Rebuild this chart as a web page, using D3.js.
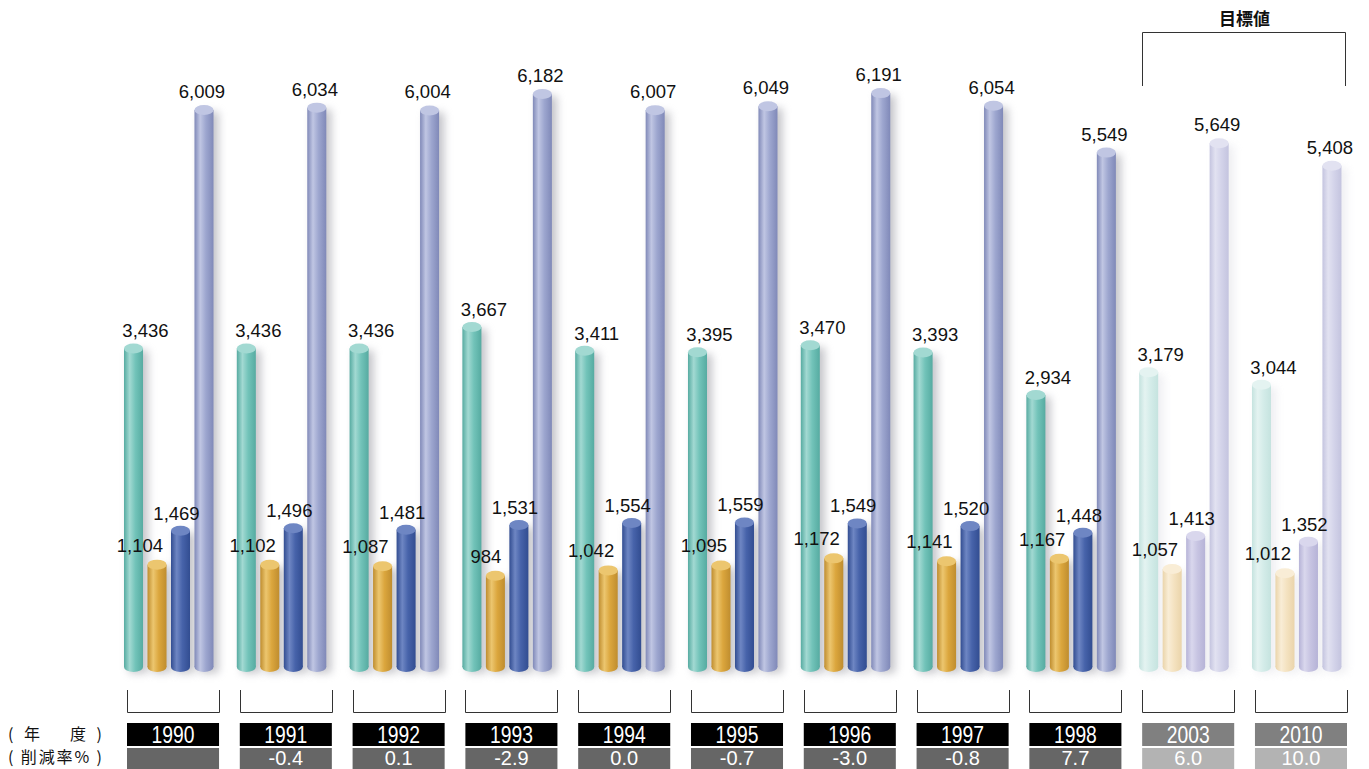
<!DOCTYPE html>
<html>
<head>
<meta charset="utf-8">
<script src="https://cdn.jsdelivr.net/npm/d3@7"></script>
<style>
  html, body { margin: 0; padding: 0; background: #fff; }
  svg { display: block; }
  .lbl { font-family: "Liberation Sans", Arial, sans-serif; font-size: 18.5px; fill: #111; }
  .box-txt { font-family: "Liberation Sans", Arial, sans-serif; fill: #fff; }
  .jp { font-family: "Noto Sans CJK JP", sans-serif; fill: #111; }
</style>
</head>
<body>
<script>
// Fiscal years (last two are target years)
const years = ["1990", "1991", "1992", "1993", "1994", "1995", "1996", "1997", "1998", "2003", "2010"];
const targetYears = ["2003", "2010"];
// Four series per year
const valuesA = [3436, 3436, 3436, 3667, 3411, 3395, 3470, 3393, 2934, 3179, 3044];
const valuesB = [1104, 1102, 1087, 984, 1042, 1095, 1172, 1141, 1167, 1057, 1012];
const valuesC = [1469, 1496, 1481, 1531, 1554, 1559, 1549, 1520, 1448, 1413, 1352];
const valuesD = [6009, 6034, 6004, 6182, 6007, 6049, 6191, 6054, 5549, 5649, 5408];
// Reduction rate (%) per year
const rates = ["", "-0.4", "0.1", "-2.9", "0.0", "-0.7", "-3.0", "-0.8", "7.7", "6.0", "10.0"];
const seriesKeys = ["A", "B", "C", "D"];
const seriesValues = { A: valuesA, B: valuesB, C: valuesC, D: valuesD };

const W = 1369, H = 769;
const svg = d3.select("body").append("svg").attr("width", W).attr("height", H);
const defs = svg.append("defs");

// Cylinder colours: base, light highlight, dark edge
const palette = {
  A: { base: "#72c3b9", light: "#a2d9d2", dark: "#56aba1" },
  B: { base: "#dba63d", light: "#ecc66f", dark: "#bf8d2f" },
  C: { base: "#4763aa", light: "#6e86c3", dark: "#324d91" },
  D: { base: "#9da6cf", light: "#c0c6e3", dark: "#8089b8" }
};
const palettePale = {
  A: { base: "#d4ece9", light: "#e4f3f1", dark: "#c5e3df" },
  B: { base: "#f4e2c0", light: "#f9edd6", dark: "#ead4aa" },
  C: { base: "#c7c4e2", light: "#d9d7ed", dark: "#b6b3d7" },
  D: { base: "#d4d4ea", light: "#e2e2f1", dark: "#c4c4df" }
};

function makeGrad(id, c) {
  const g = defs.append("linearGradient").attr("id", id)
    .attr("x1", "0%").attr("x2", "100%").attr("y1", "0%").attr("y2", "0%");
  g.append("stop").attr("offset", "0%").attr("stop-color", c.dark);
  g.append("stop").attr("offset", "30%").attr("stop-color", c.light);
  g.append("stop").attr("offset", "60%").attr("stop-color", c.base);
  g.append("stop").attr("offset", "100%").attr("stop-color", c.dark);
}
seriesKeys.forEach(k => {
  makeGrad("g" + k, palette[k]);
  makeGrad("gp" + k, palettePale[k]);
});

const blur = defs.append("filter").attr("id", "shadow")
  .attr("x", "-150%").attr("y", "-10%").attr("width", "400%").attr("height", "120%");
blur.append("feGaussianBlur").attr("stdDeviation", 4);

// Scales
const x = d3.scaleBand().domain(years).range([127, 1347]).paddingInner(0.184).paddingOuter(0);
const xs = d3.scaleBand().domain(seriesKeys).range([-3, 86.5]).paddingInner(0.19).paddingOuter(0);
const y = d3.scaleLinear().domain([0, 7000]).range([667, 667 - 7000 * 0.0927]);

const bw = xs.bandwidth();
const capRy = 5;

// Flatten bars
const bars = [];
years.forEach((yr, i) => {
  seriesKeys.forEach(k => {
    bars.push({ year: yr, key: k, value: seriesValues[k][i], target: targetYears.includes(yr) });
  });
});

const barG = svg.append("g");

// Soft shadows to the right of every cylinder
barG.selectAll("rect.shadow").data(bars).join("rect")
  .attr("class", "shadow")
  .attr("x", d => x(d.year) + xs(d.key) + 5)
  .attr("y", d => y(d.value) + 2)
  .attr("width", bw)
  .attr("height", d => y(0) - y(d.value) + 4)
  .attr("fill", d => d.target ? "#d0d0da" : "#8a8a94")
  .attr("opacity", d => d.target ? 0.35 : 0.5)
  .attr("filter", "url(#shadow)");

// Cylinder bodies
const cyl = barG.selectAll("g.cyl").data(bars).join("g").attr("class", "cyl");
cyl.append("rect")
  .attr("x", d => x(d.year) + xs(d.key))
  .attr("y", d => y(d.value))
  .attr("width", bw)
  .attr("height", d => y(0) - y(d.value))
  .attr("fill", d => `url(#${d.target ? "gp" : "g"}${d.key})`);
// Bottom rounding
cyl.append("ellipse")
  .attr("cx", d => x(d.year) + xs(d.key) + bw / 2)
  .attr("cy", y(0))
  .attr("rx", bw / 2).attr("ry", capRy)
  .attr("fill", d => `url(#${d.target ? "gp" : "g"}${d.key})`);
// Top cap
cyl.append("ellipse")
  .attr("cx", d => x(d.year) + xs(d.key) + bw / 2)
  .attr("cy", d => y(d.value))
  .attr("rx", bw / 2).attr("ry", capRy)
  .attr("fill", d => (d.target ? palettePale : palette)[d.key].light);

// Value labels
const labelOffset = {
  A: { dx: 12, dy: -11, anchor: "middle" },
  B: { dx: 6, dy: -13, anchor: "end" },
  C: { dx: -4, dy: -11, anchor: "middle" },
  D: { dx: -2, dy: -12, anchor: "middle" }
};
svg.append("g").selectAll("text").data(bars).join("text")
  .attr("class", "lbl")
  .attr("x", d => x(d.year) + xs(d.key) + bw / 2 + labelOffset[d.key].dx)
  .attr("y", d => y(d.value) + labelOffset[d.key].dy)
  .attr("text-anchor", d => labelOffset[d.key].anchor)
  .text(d => d3.format(",")(d.value));

// Brackets under each year group
const bg = svg.append("g").attr("fill", "none").attr("stroke", "#333").attr("stroke-width", 1);
bg.selectAll("path").data(years).join("path")
  .attr("d", d => {
    const l = Math.round(x(d)) + 0.5, r = Math.round(x(d) + x.bandwidth()) + 0.5;
    return `M${l},690 V712.5 H${r} V690`;
  });

// Year boxes
const yb = svg.append("g");
yb.selectAll("rect").data(years).join("rect")
  .attr("x", d => x(d)).attr("y", 723)
  .attr("width", x.bandwidth()).attr("height", 23)
  .attr("fill", d => targetYears.includes(d) ? "#808080" : "#000");
yb.selectAll("text").data(years).join("text")
  .attr("class", "box-txt")
  .attr("font-size", 23)
  .attr("text-anchor", "middle")
  .attr("transform", d => `translate(${x(d) + x.bandwidth() / 2},742.5) scale(0.84,1)`)
  .text(d => d);

// Reduction-rate boxes
const rb = svg.append("g");
rb.selectAll("rect").data(years).join("rect")
  .attr("x", d => x(d)).attr("y", 748)
  .attr("width", x.bandwidth()).attr("height", 21)
  .attr("fill", d => targetYears.includes(d) ? "#b3b3b3" : "#666");
rb.selectAll("text").data(years).join("text")
  .attr("class", "box-txt")
  .attr("font-size", 20)
  .attr("x", d => x(d) + x.bandwidth() / 2).attr("y", 765)
  .attr("text-anchor", "middle")
  .text((d, i) => rates[i]);

// Row headers
svg.append("text").attr("class", "jp").attr("x", 8).attr("y", 740)
  .attr("font-size", 16).attr("textLength", 94).attr("lengthAdjust", "spacing")
  .text("( 年　 度 )");
svg.append("text").attr("class", "jp").attr("x", 8).attr("y", 763)
  .attr("font-size", 16).attr("textLength", 94).attr("lengthAdjust", "spacing")
  .text("( 削減率% )");

// Target bracket on top
const t0 = x(targetYears[0]), t1 = x(targetYears[1]) + x.bandwidth();
svg.append("path")
  .attr("d", `M${Math.round(t0) + 0.5},86 V32.5 H${Math.round(t1) - 1.5} V86`)
  .attr("fill", "none").attr("stroke", "#333");
svg.append("text").attr("class", "jp")
  .attr("x", (t0 + t1) / 2).attr("y", 25)
  .attr("text-anchor", "middle").attr("font-size", 17).attr("font-weight", 700)
  .text("目標値");
</script>
</body>
</html>
